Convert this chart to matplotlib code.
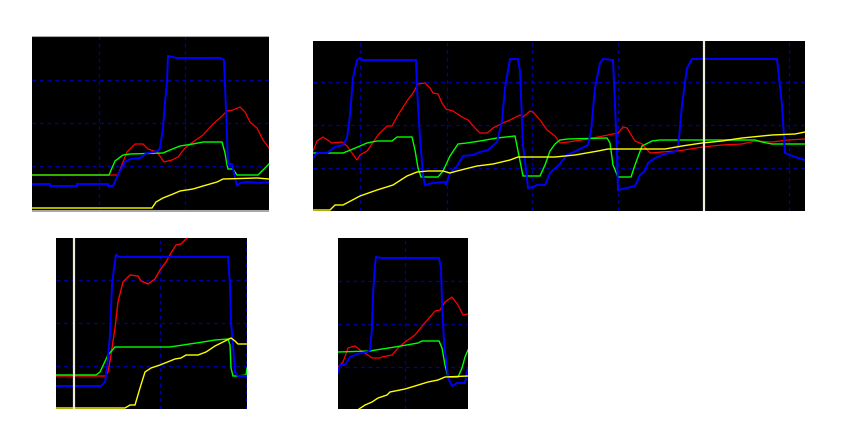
import matplotlib
matplotlib.use("Agg")
import matplotlib.pyplot as plt

# ============================================================================
# DONNEES (unites = pas d'affichage de l'oscillo)
# ============================================================================

# --- panneau 1 ---
p1_blue_x = [0, 18, 18, 45, 45, 76, 76, 81, 86, 93, 98, 108, 115, 126, 128, 131, 133, 135, 136, 141, 145, 188, 192, 193, 195, 196, 200, 203, 205, 208, 215, 228, 237]
p1_blue_y = [28, 28, 26, 26, 28, 28, 26, 26, 37, 50, 53, 54, 59, 61, 64, 84, 110, 130, 156, 155, 154, 154, 152, 127, 77, 48, 48, 34, 26, 29, 30, 29, 30]
p1_red_x = [0, 86, 91, 95, 103, 111, 116, 125, 132, 140, 146, 153, 161, 171, 181, 188, 195, 201, 208, 213, 218, 225, 231, 237]
p1_red_y = [37, 37, 50, 60, 68, 68, 63, 60, 50, 52, 55, 64, 70, 77, 88, 94, 101, 102, 105, 100, 90, 84, 72, 64]
p1_green_x = [0, 77, 83, 91, 98, 131, 138, 148, 161, 171, 190, 193, 195, 196, 201, 205, 226, 231, 237]
p1_green_y = [37, 37, 51, 57, 58, 59, 62, 66, 68, 70, 70, 59, 47, 43, 43, 37, 37, 42, 48]
p1_yellow_x = [0, 120, 124, 131, 141, 148, 161, 171, 185, 191, 225, 237]
p1_yellow_y = [4, 4, 10, 14, 18, 21, 23, 26, 30, 33, 34, 33]

# --- panneau 2 ---
p2_blue_x = [0, 4, 14, 22, 30, 34, 37, 40, 44, 47, 50, 103, 104, 107, 110, 112, 120, 132, 133, 137, 144, 150, 160, 167, 175, 184, 189, 192, 197, 205, 207, 210, 214, 215, 220, 224, 232, 237, 247,
             249, 254, 265, 275, 278, 282, 287, 290, 300, 302, 304, 305, 314, 322, 327, 332, 335, 342, 352, 364, 366, 369, 374, 379, 385, 464, 469, 472, 477, 485, 492]
p2_blue_y = [53, 58, 58, 64, 66, 73, 96, 133, 151, 153, 151, 151, 123, 73, 36, 26, 28, 29, 26, 38, 45, 55, 56, 59, 61, 69, 90, 123, 152, 152, 140, 66, 33, 23, 24, 26, 26, 38, 47,
             50, 56, 61, 66, 80, 123, 148, 152, 151, 106, 56, 21, 23, 25, 36, 40, 48, 53, 57, 60, 73, 106, 143, 152, 152, 152, 106, 58, 56, 53, 51]
p2_red_x = [0, 4, 10, 19, 29, 34, 39, 44, 47, 54, 59, 65, 74, 79, 85, 94, 100, 105, 112, 117, 120, 125, 129, 133, 140, 149, 155, 162, 167, 174, 180, 190, 197, 207, 210, 217, 220, 227, 234, 242,
            247, 255, 275, 295, 305, 310, 314, 322, 329, 337, 349, 365, 389, 409, 429, 442, 459, 475, 492]
p2_red_y = [60, 70, 74, 68, 69, 65, 58, 51, 56, 60, 67, 76, 85, 85, 96, 110, 118, 127, 128, 123, 118, 117, 108, 102, 100, 94, 91, 83, 78, 78, 83, 88, 91, 96, 94, 100, 99, 91, 81, 75,
            68, 69, 72, 76, 78, 84, 83, 70, 67, 58, 59, 60, 64, 66, 67, 70, 69, 71, 72]
p2_green_x = [0, 30, 40, 54, 64, 79, 84, 99, 102, 105, 108, 125, 130, 137, 145, 154, 167, 184, 202, 205, 210, 227, 232, 237, 242,
              247, 255, 294, 297, 300, 305, 318, 322, 329, 339, 347, 442, 449, 459, 492]
p2_green_y = [58, 58, 62, 68, 70, 70, 74, 74, 61, 43, 34, 34, 40, 55, 67, 68, 70, 73, 75, 60, 35, 35, 46, 60, 67,
              71, 72, 73, 68, 46, 34, 34, 46, 65, 70, 71, 71, 69, 67, 67]
p2_yellow_x = [0, 17, 22, 30, 47, 64, 80, 94, 104, 115, 130, 137, 144, 164, 180, 197, 205, 242, 262, 285, 295, 352, 369, 389, 409, 429, 459, 482, 492]
p2_yellow_y = [1, 1, 6, 6, 15, 21, 26, 35, 39, 40, 40, 38, 40, 45, 47, 51, 54, 54, 56, 60, 62, 62, 65, 68, 70, 73, 76, 77, 79]
p2_cursor = 391

# --- panneau 3 ---
p3_blue_x = [0, 45, 49, 51, 54, 56, 58, 60, 64, 172, 174, 175, 177, 179, 182, 190]
p3_blue_y = [23, 23, 27, 41, 74, 124, 141, 154, 152, 152, 124, 87, 64, 37, 33, 33]
p3_red_x = [0, 49, 52, 55, 59, 62, 67, 74, 82, 85, 92, 99, 104, 110, 115, 120, 125, 132]
p3_red_y = [33, 33, 37, 54, 81, 107, 127, 134, 133, 128, 125, 130, 139, 147, 156, 164, 165, 172]
p3_green_x = [0, 40, 44, 52, 59, 114, 127, 147, 159, 172, 174, 175, 177, 182, 190, 191]
p3_green_y = [34, 34, 37, 54, 62, 62, 64, 67, 69, 70, 64, 41, 33, 33, 34, 41]
p3_yellow_x = [0, 69, 74, 79, 84, 89, 95, 104, 114, 119, 125, 130, 142, 150, 159, 169, 175, 179, 182, 192]
p3_yellow_y = [1, 1, 4, 4, 21, 37, 41, 44, 48, 50, 51, 54, 54, 57, 63, 68, 71, 68, 65, 65]
p3_cursor = 18

# --- panneau 4 ---
p4_blue_x = [0, 2, 7, 12, 19, 29, 32, 34, 35, 37, 38, 44, 101, 103, 104, 106, 109, 110, 114, 119, 127, 129, 130]
p4_blue_y = [37, 44, 44, 52, 55, 57, 59, 81, 114, 144, 152, 151, 151, 141, 107, 67, 41, 31, 23, 26, 26, 37, 41]
p4_red_x = [0, 5, 10, 17, 22, 27, 34, 42, 44, 54, 60, 67, 77, 85, 92, 97, 102, 107, 114, 120, 125, 130]
p4_red_y = [42, 47, 61, 63, 59, 56, 51, 51, 52, 54, 61, 67, 74, 84, 92, 98, 99, 107, 112, 104, 94, 95]
p4_green_x = [0, 32, 44, 57, 80, 84, 101, 104, 107, 110, 120, 124, 127, 130]
p4_green_y = [57, 58, 60, 62, 66, 68, 68, 61, 44, 32, 32, 41, 52, 59]
p4_yellow_x = [21, 27, 34, 40, 49, 52, 67, 77, 90, 100, 107, 130]
p4_yellow_y = [0, 4, 7, 11, 14, 17, 20, 23, 27, 29, 32, 33]

# ============================================================================
# FIGURE
# ============================================================================

W, H = 845, 422
fig = plt.figure(figsize=(W / 100, H / 100), dpi=100)
fig.patch.set_facecolor("white")

grid_color = "#0000a8"
cursor_color = "#ecebdc"


def make_panel(left, top, width, height, gx, gy):
    # axes placee en pixels de la figure
    ax = fig.add_axes([left / W, (H - top - height) / H, width / W, height / H])
    ax.set_facecolor("black")
    ax.set_xlim(0, width)
    ax.set_ylim(0, height)
    for xg in gx:
        ax.axvline(xg, color=grid_color, lw=0.9, ls=(0, (3, 3)), zorder=1)
    for yg in gy:
        ax.axhline(yg, color=grid_color, lw=0.9, ls=(0, (3, 3)), zorder=1)
    ax.set_xticks([])
    ax.set_yticks([])
    for s in ax.spines.values():
        s.set_visible(False)
    return ax


def traces(ax, series):
    for x, y, c, lw in series:
        ax.plot(x, y, color=c, lw=lw, solid_joinstyle="miter", zorder=3)


# panneau 1
ax1 = make_panel(32, 36, 237, 176, [67, 153], [46, 89, 132])
traces(ax1, [
    (p1_red_x, p1_red_y, "#ff0000", 0.9),
    (p1_green_x, p1_green_y, "#00ff00", 1.0),
    (p1_blue_x, p1_blue_y, "#0000ff", 1.4),
    (p1_yellow_x, p1_yellow_y, "#ffff00", 1.0),
])
ax1.axhline(176, color="#a8a8a8", lw=1.5, zorder=4)
ax1.axhline(1, color="#a8a8a8", lw=1.5, zorder=4)

# panneau 2
ax2 = make_panel(313, 41, 492, 170, [47, 134, 219, 305, 476], [43, 86, 129])
traces(ax2, [
    (p2_red_x, p2_red_y, "#ff0000", 0.9),
    (p2_green_x, p2_green_y, "#00ff00", 1.0),
    (p2_blue_x, p2_blue_y, "#0000ff", 1.4),
    (p2_yellow_x, p2_yellow_y, "#ffff00", 1.0),
])
ax2.axvline(p2_cursor, color=cursor_color, lw=1.6, zorder=5)

# panneau 3
ax3 = make_panel(56, 238, 191, 171, [104, 190], [43, 86, 129])
traces(ax3, [
    (p3_red_x, p3_red_y, "#ff0000", 1.0),
    (p3_green_x, p3_green_y, "#00ff00", 1.0),
    (p3_blue_x, p3_blue_y, "#0000ff", 1.4),
    (p3_yellow_x, p3_yellow_y, "#ffff00", 1.0),
])
ax3.axvline(p3_cursor, color=cursor_color, lw=1.6, zorder=5)

# panneau 4
ax4 = make_panel(338, 238, 130, 171, [67], [42, 85, 128])
traces(ax4, [
    (p4_red_x, p4_red_y, "#ff0000", 0.9),
    (p4_green_x, p4_green_y, "#00ff00", 1.0),
    (p4_blue_x, p4_blue_y, "#0000ff", 1.4),
    (p4_yellow_x, p4_yellow_y, "#ffff00", 1.0),
])

fig.savefig("out.png", dpi=100, facecolor="white")
